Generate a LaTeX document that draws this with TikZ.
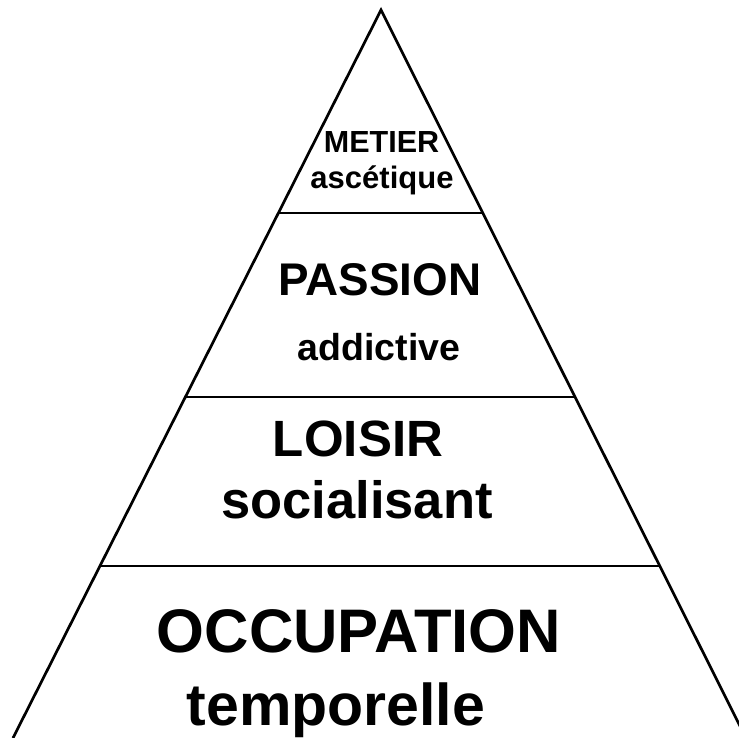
\documentclass[tikz,border=0pt]{standalone}
\usepackage{fontspec}
\setmainfont{Liberation Sans}
\usetikzlibrary{calc}
\tikzset{
  edge/.style={line width=2.7pt, black},
  lbl/.style={anchor=base, inner sep=0pt, font=\bfseries},
}
\newcommand{\fsz}[1]{\fontsize{#1}{#1}\selectfont}
\begin{document}
\begin{tikzpicture}[x=1pt,y=-1pt]
\useasboundingbox (0,0) rectangle (739,738);
\clip (0,0) rectangle (739,738);
\coordinate (apex) at (381,10);
\coordinate (bl) at (13,738);
\coordinate (br) at (746,738);
\draw[edge, line join=miter] (bl) -- (apex) -- (br);
\coordinate (l1) at ($(apex)!0.2788!(bl)$);
\coordinate (r1) at ($(apex)!0.2788!(br)$);
\coordinate (l2) at ($(apex)!0.5316!(bl)$);
\coordinate (r2) at ($(apex)!0.5316!(br)$);
\coordinate (l3) at ($(apex)!0.7637!(bl)$);
\coordinate (r3) at ($(apex)!0.7637!(br)$);
\draw[edge] (l1) -- (r1);
\draw[edge] (l2) -- (r2);
\draw[edge] (l3) -- (r3);
\node[lbl, font=\bfseries\fsz{30.5}] (metier) at (381.5,153) {METIER};
\node[lbl, font=\bfseries\fsz{31}] (ascetique) at (382,189) {ascétique};
\node[lbl, font=\bfseries\fsz{45.8}] (passion) at (380,295) {PASSION};
\node[lbl, font=\bfseries\fsz{37.5}] (addictive) at (379,360) {addictive};
\node[lbl, font=\bfseries\fsz{51}] (loisir) at (358,456) {LOISIR};
\node[lbl, font=\bfseries\fsz{52.5}] (social) at (357,518) {socialisant};
\node[lbl, font=\bfseries\fsz{61.5}] (occup) at (359,652) {OCCUPATION};
\node[lbl, font=\bfseries\fsz{59}] (tempo) at (336,725) {temporelle};
\end{tikzpicture}
\end{document}
